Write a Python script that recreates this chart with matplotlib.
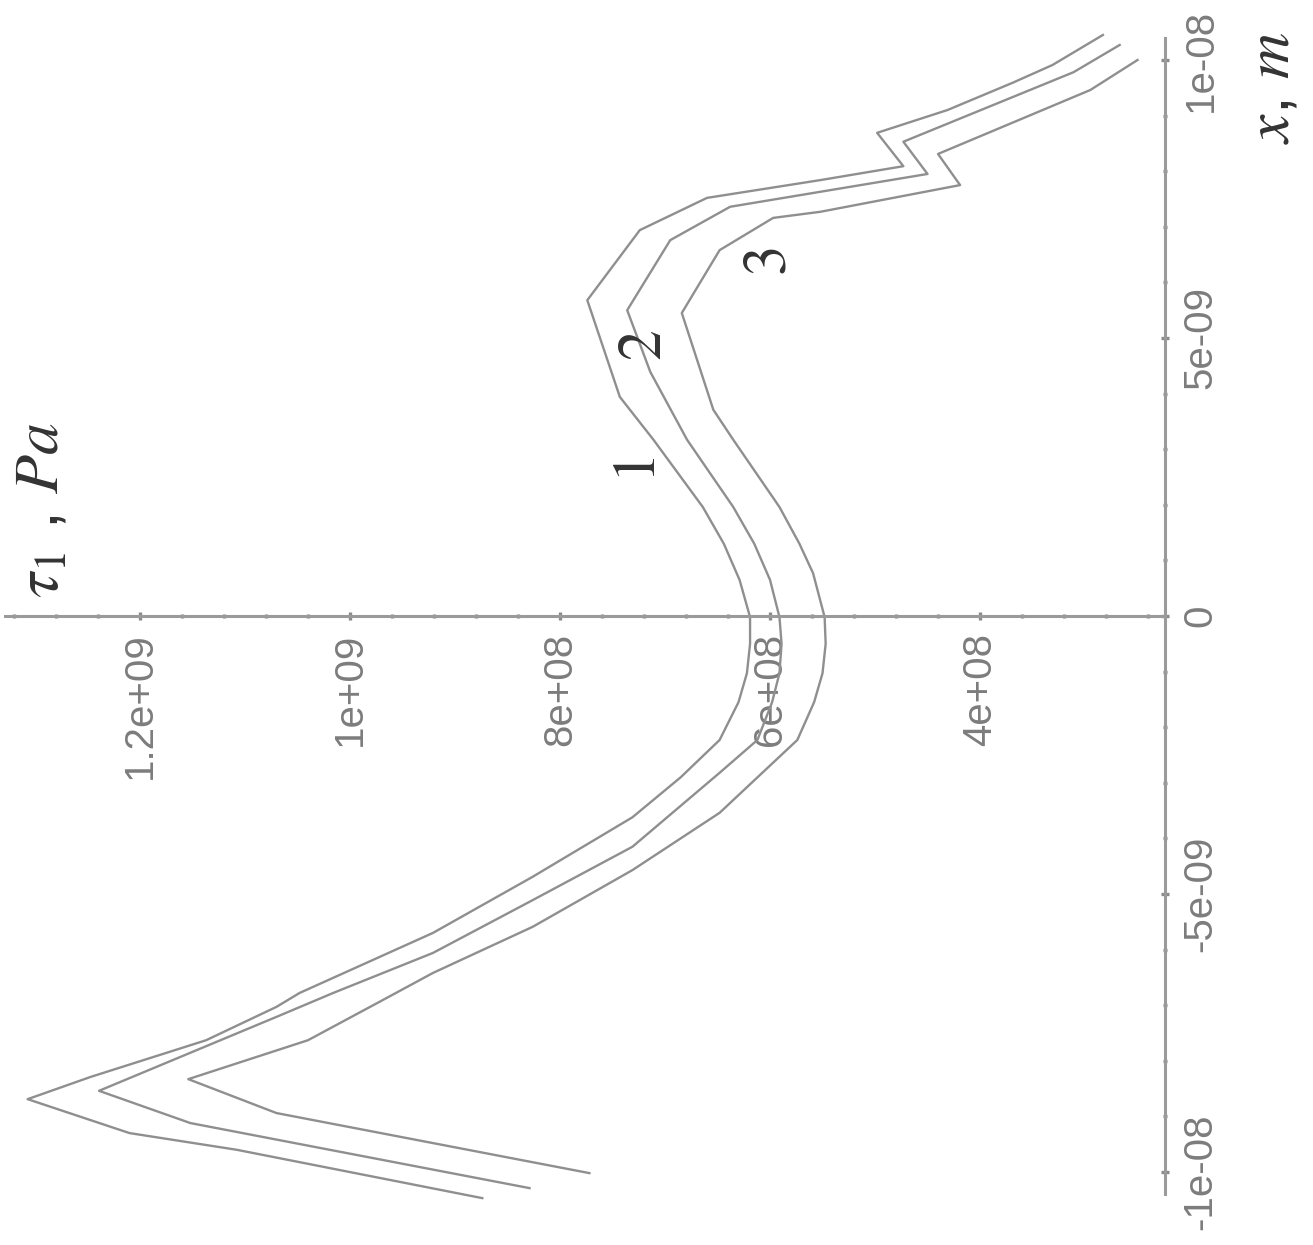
import matplotlib
matplotlib.use("Agg")
import matplotlib.pyplot as plt

# ------------------------------------------------------------
# DATA
# tau in units of 1e8 Pa, x in units of 1e-9 m
# ------------------------------------------------------------
x_c1 = [-10.47, -9.60, -9.30, -8.69, -8.29, -7.63, -7.03, -6.78, -5.70, -4.69, -3.62,
        -2.90, -2.23, -1.55, -1.03, -0.50, -0.02, 0.65, 1.30, 1.96, 3.17, 3.94, 5.68,
        6.94, 7.52, 7.84, 8.09, 8.69, 9.10, 9.59, 9.91, 10.45]
tau_c1 = [8.74, 11.08, 12.10, 13.07, 12.47, 11.37, 10.70, 10.48, 9.21, 8.26, 7.31,
          6.85, 6.48, 6.30, 6.22, 6.19, 6.19, 6.29, 6.44, 6.64, 7.11, 7.43, 7.74,
          7.24, 6.60, 5.52, 4.73, 4.98, 4.31, 3.69, 3.31, 2.83]

x_c2 = [-10.29, -9.12, -8.54, -7.21, -6.78, -6.06, -5.11, -4.15, -2.82, -2.23, -1.55,
        -1.03, -0.50, -0.02, 0.65, 1.30, 1.96, 3.17, 4.39, 5.50, 6.76, 7.36, 7.63,
        7.95, 8.53, 9.78, 10.27]
tau_c2 = [8.29, 11.52, 12.39, 10.70, 10.16, 9.21, 8.26, 7.31, 6.48, 6.12, 5.98,
          5.91, 5.89, 5.91, 6.00, 6.15, 6.35, 6.79, 7.14, 7.36, 6.95, 6.38, 5.52,
          4.50, 4.73, 3.11, 2.67]

x_c3 = [-10.02, -8.94, -8.33, -7.63, -6.91, -6.42, -5.59, -4.57, -3.54, -2.23, -1.55,
        -1.03, -0.50, -0.02, 0.77, 1.30, 1.96, 3.17, 3.71, 5.45, 6.58, 7.16, 7.27,
        7.75, 8.31, 9.46, 10.00]
tau_c3 = [7.72, 10.70, 11.54, 10.40, 9.69, 9.21, 8.26, 7.31, 6.48, 5.74, 5.58,
          5.50, 5.47, 5.48, 5.59, 5.72, 5.91, 6.35, 6.54, 6.84, 6.48, 5.97, 5.52,
          4.19, 4.40, 2.95, 2.50]

curve_names = ["1", "2", "3"]
curve_label_pos = [(7.24, 2.63), (7.19, 4.87), (6.00, 6.37)]

tau_major = [12, 10, 8, 6, 4]
tau_major_labels = ["1.2e+09", "1e+09", "8e+08", "6e+08", "4e+08"]
tau_minor = [13.2, 12.8, 12.4, 11.6, 11.2, 10.8, 10.4, 9.6, 9.2, 8.8, 8.4, 7.6, 7.2,
             6.8, 6.4, 5.6, 5.2, 4.8, 4.4, 3.6, 3.2, 2.8, 2.4]

x_major = [-10, -5, 0, 5, 10]
x_major_labels = ["-1e-08", "-5e-09", "0", "5e-09", "1e-08"]
x_minor = [-9, -8, -7, -6, -4, -3, -2, -1, 1, 2, 3, 4, 6, 7, 8, 9]

TAU_AXIS_AT = 2.238   # where the x axis line crosses (view minimum of tau)

# ------------------------------------------------------------
# FIGURE (original Maple plot is turned 90 degrees counter-clockwise)
# ------------------------------------------------------------
plt.rcParams["mathtext.fontset"] = "stix"
plt.rcParams["font.family"] = ["Liberation Sans", "DejaVu Sans"]

fig = plt.figure(figsize=(13.13, 12.45), dpi=100)
ax = fig.add_axes([0, 0, 1, 1])
ax.set_xlim(13.333, 0.829)
ax.set_ylim(-11.313, 11.079)

line_col = "#8f8f8f"
for xs, ts in [(x_c1, tau_c1), (x_c2, tau_c2), (x_c3, tau_c3)]:
    ax.plot(ts, xs, color=line_col, lw=1.7)

# axes through the crossing point
ax.spines["top"].set_visible(False)
ax.spines["left"].set_visible(False)
ax.spines["right"].set_position(("data", TAU_AXIS_AT))
ax.spines["right"].set_bounds(-10.4, 10.4)
ax.spines["bottom"].set_position(("data", 0))
ax.spines["bottom"].set_bounds(TAU_AXIS_AT, 13.29)
for s in ["right", "bottom"]:
    ax.spines[s].set_color("#9a9a9a")
    ax.spines[s].set_linewidth(2.2)

ax.yaxis.tick_right()
ax.set_xticks(tau_major, tau_major_labels)
ax.set_xticks(tau_minor, minor=True)
ax.set_yticks(x_major, x_major_labels)
ax.set_yticks(x_minor, minor=True)

ax.tick_params(which="major", direction="inout", length=6, width=2.4,
               color="#8a8a8a", labelcolor="#7c7c7c", labelsize=29, pad=9)
ax.tick_params(which="minor", direction="inout", length=3.5, width=2.4, color="#8a8a8a")
ax.tick_params(axis="x", labelrotation=90)
ax.tick_params(axis="y", labelrotation=90)
plt.setp(ax.get_yticklabels(), va="center", ha="left")

# axis titles
ax.text(1.22, 9.50, r"$x$, $m$", rotation=90, fontsize=46, ha="center", va="center",
        color="#333333")
ax.text(12.95, 1.91, r"$\tau_{1}$ , $Pa$", rotation=90, fontsize=46, ha="center",
        va="center", color="#333333")

# curve numbers
for name, (t, xv) in zip(curve_names, curve_label_pos):
    ax.text(t, xv, r"$%s$" % name, rotation=90, fontsize=44, ha="center", va="center",
            color="#333333")

fig.savefig("out.png", dpi=100)
